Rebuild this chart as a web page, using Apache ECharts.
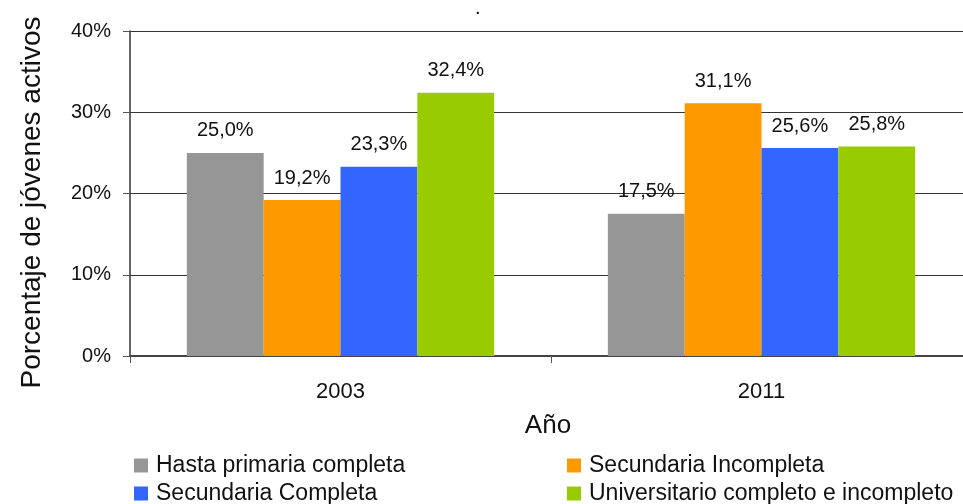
<!DOCTYPE html>
<html>
<head>
<meta charset="utf-8">
<title>Porcentaje de jóvenes activos</title>
<script src="https://cdn.jsdelivr.net/npm/echarts@6/dist/echarts.min.js"></script>
<style>
    html, body { margin: 0; padding: 0; background: #fff; }
    #echarts_dom_id { width: 963px; height: 504px; }
</style>
</head>
<body>
<div id="echarts_dom_id"></div>
<script>
// datos
var years = ["2003", "2011"];
var hastaPrimaria = [25.0, 17.5];
var secIncompleta = [19.2, 31.1];
var secCompleta = [23.3, 25.6];
var universitario = [32.4, 25.8];
var yTicks = [0, 10, 20, 30, 40];

var fuente = "'Liberation Sans', Arial, sans-serif";

var fmtPct = function (v) {
    return v.toFixed(1).replace(".", ",") + "%";
};

var serie = function (name, data, color) {
    return {
        name: name,
        type: "bar",
        data: data,
        barGap: "0%",
        barCategoryGap: "27%",
        itemStyle: { color: color },
        label: {
            show: true,
            position: "top",
            distance: 12,
            fontFamily: fuente,
            fontSize: 20,
            color: "#111",
            formatter: function (p) { return fmtPct(p.value); }
        }
    };
};

// una leyenda por elemento, en dos columnas
var leyenda = function (left, top, name) {
    return {
        left: left,
        top: top,
        itemWidth: 14,
        itemHeight: 14,
        icon: "rect",
        data: [name],
        textStyle: { fontFamily: fuente, fontSize: 23, color: "#111", padding: [0, 0, 0, 3] }
    };
};

var myChart = echarts.init(document.getElementById("echarts_dom_id"), null, { renderer: "canvas" });

myChart.setOption({
    animation: false,
    textStyle: { fontFamily: fuente },
    title: {
        text: ".",
        left: 470,
        top: -7,
        textStyle: { fontFamily: fuente, fontSize: 20, fontWeight: "normal", color: "#000" }
    },
    // el área del gráfico sale un poco del lienzo por la derecha
    grid: { left: 130, top: 31, width: 842, height: 325, containLabel: false, outerBoundsMode: "none" },
    legend: [
        leyenda(129, 449, "Hasta primaria completa"),
        leyenda(562, 449, "Secundaria Incompleta"),
        leyenda(129, 477, "Secundaria Completa"),
        leyenda(562, 477, "Universitario completo e incompleto")
    ],
    xAxis: {
        type: "category",
        data: years,
        name: "Año",
        nameLocation: "middle",
        nameGap: 57,
        nameTextStyle: { fontFamily: fuente, fontSize: 26, color: "#111", padding: [0, 6, 0, 0] },
        axisLine: { lineStyle: { color: "#444", width: 2 } },
        axisTick: { show: true, length: 7, lineStyle: { color: "#555" } },
        axisLabel: { fontFamily: fuente, fontSize: 22, color: "#111", margin: 25 }
    },
    yAxis: {
        type: "value",
        min: yTicks[0],
        max: yTicks[yTicks.length - 1],
        interval: 10,
        name: "Porcentaje de jóvenes activos",
        nameLocation: "middle",
        nameGap: 84,
        nameTextStyle: { fontFamily: fuente, fontSize: 28, color: "#111", padding: [0, 18, 0, 0] },
        axisLine: { show: true, lineStyle: { color: "#333", width: 1.5 } },
        axisTick: { show: true, length: 7, lineStyle: { color: "#555" } },
        axisLabel: {
            fontFamily: fuente, fontSize: 20, color: "#111", margin: 19,
            formatter: "{value}%"
        },
        splitLine: { show: true, lineStyle: { color: "#333", width: 1 } }
    },
    series: [
        serie("Hasta primaria completa", hastaPrimaria, "#969696"),
        serie("Secundaria Incompleta", secIncompleta, "#FF9900"),
        serie("Secundaria Completa", secCompleta, "#3366FF"),
        serie("Universitario completo e incompleto", universitario, "#99CC00")
    ]
});
</script>
</body>
</html>
